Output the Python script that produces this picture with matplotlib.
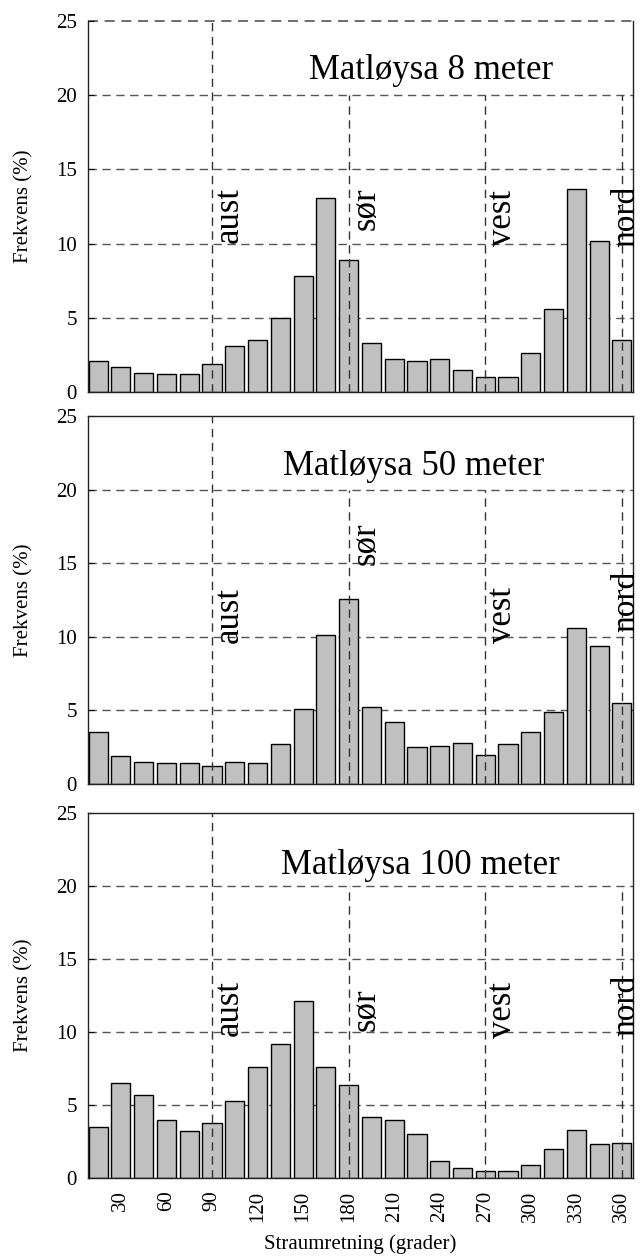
import matplotlib
matplotlib.use("Agg")
import matplotlib.pyplot as plt

# retning (grader), midten av kvar sektor
retning = [15, 30, 45, 60, 75, 90, 105, 120, 135, 150, 165, 180,
           195, 210, 225, 240, 255, 270, 285, 300, 315, 330, 345, 360]

# frekvens (%) for kvar djupn
frek_8m = [2.1, 1.7, 1.3, 1.2, 1.2, 1.9, 3.1, 3.5, 5.0, 7.8, 13.1, 8.9,
           3.3, 2.2, 2.1, 2.2, 1.5, 1.0, 1.0, 2.6, 5.6, 13.7, 10.2, 3.5]
frek_50m = [3.5, 1.9, 1.5, 1.4, 1.4, 1.2, 1.5, 1.4, 2.7, 5.1, 10.1, 12.6,
            5.2, 4.2, 2.5, 2.6, 2.8, 2.0, 2.7, 3.5, 4.9, 10.6, 9.4, 5.5]
frek_100m = [3.5, 6.5, 5.7, 4.0, 3.2, 3.8, 5.3, 7.6, 9.2, 12.1, 7.6, 6.4,
             4.2, 4.0, 3.0, 1.2, 0.7, 0.5, 0.5, 0.9, 2.0, 3.3, 2.3, 2.4]

titlar = ["Matløysa 8 meter", "Matløysa 50 meter", "Matløysa 100 meter"]
himmelretning = ["aust", "sør", "vest", "nord"]
himmel_grader = [90, 180, 270, 360]
x_ticks = [30, 60, 90, 120, 150, 180, 210, 240, 270, 300, 330, 360]
y_ticks = [0, 5, 10, 15, 20, 25]

plt.rcParams['font.family'] = ['Liberation Serif', 'DejaVu Serif']

fig = plt.figure(figsize=(6.41, 12.59), dpi=100)

# plassering av panela (venstre, botn, breidd, hogd)
boksar = [(0.137, 0.6886, 0.851, 0.2947),
          (0.137, 0.3773, 0.851, 0.2923),
          (0.137, 0.0643, 0.851, 0.2900)]
tittel_x = [234, 223, 227]
tittel_y = [21.1, 21.0, 20.8]
# topp av teksten for aust, sør, vest, nord
tekst_y = [[13.8, 13.8, 13.6, 13.9],
           [13.4, 17.8, 13.4, 14.5],
           [13.6, 13.0, 13.4, 13.9]]

dash = (0, (6, 4))
grid_col = '#555555'

for i, (data, boks) in enumerate(zip([frek_8m, frek_50m, frek_100m], boksar)):
    ax = fig.add_axes(boks)
    ax.bar(retning, data, width=12.6, color='#c0c0c0', edgecolor='black',
           linewidth=1.0, zorder=2)
    ax.set_xlim(8.2, 367.5)
    ax.set_ylim(0, 25)

    # horisontale rutelinjer
    for yv in [5, 10, 15, 20]:
        ax.axhline(yv, color=grid_col, linestyle=dash, linewidth=1.0, zorder=1)
    if i == 0:
        ax.spines['top'].set_visible(False)
        ax.axhline(25, color=grid_col, linestyle=dash, linewidth=1.2, zorder=1,
                   clip_on=False)

    # himmelretningar
    for k, (namn, g) in enumerate(zip(himmelretning, himmel_grader)):
        ytopp = 25 if k == 0 else 20
        ax.plot([g, g], [0, ytopp], color='#333333', linestyle=dash,
                linewidth=1.0, zorder=3)
        if namn == "nord":
            # heilt ute ved høgre kant
            ax.text(1.0145, tekst_y[i][k], namn, rotation=90, fontsize=24,
                    ha='right', va='top', zorder=4,
                    transform=ax.get_yaxis_transform())
        else:
            ax.text(g + 0.5, tekst_y[i][k], namn, rotation=90, fontsize=25,
                    ha='left', va='top', zorder=4)

    ax.text(tittel_x[i], tittel_y[i], titlar[i], fontsize=25,
            ha='center', va='baseline')

    ax.set_yticks(y_ticks)
    ax.tick_params(axis='y', direction='in', length=4, labelsize=15, pad=8)
    ax.set_ylabel("Frekvens (%)", fontsize=15)
    ax.yaxis.set_label_coords(-0.10, 0.5)

    ax.set_xticks(x_ticks)
    if i == 2:
        ax.set_xticklabels([str(v) for v in x_ticks], rotation=90, fontsize=15)
        ax.tick_params(axis='x', length=0, pad=9)
        ax.set_xlabel("Straumretning (grader)", fontsize=15)
        ax.xaxis.set_label_coords(0.5, -0.155)
    else:
        ax.set_xticklabels([])
        ax.tick_params(axis='x', length=0)

    for sp in ax.spines.values():
        sp.set_linewidth(1.0)
        sp.set_color('#222222')

fig.savefig("out.png", dpi=100)
